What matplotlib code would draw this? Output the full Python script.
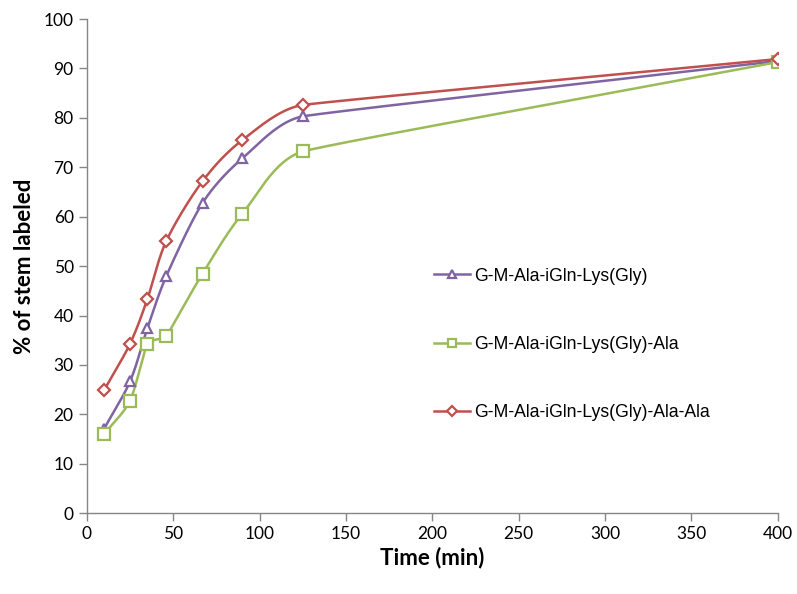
import numpy as np
import matplotlib
matplotlib.use("Agg")
import matplotlib.pyplot as plt

time_min = [10, 25, 35, 46, 67, 90, 125, 400]
gly = [17.1, 26.7, 37.4, 48.0, 62.8, 71.8, 80.3, 91.5]
gly_ala = [16.0, 22.8, 34.3, 35.9, 48.5, 60.6, 73.2, 91.3]
gly_ala_ala = [24.9, 34.3, 43.3, 55.1, 67.2, 75.5, 82.6, 91.9]

labels = ["G-M-Ala-iGln-Lys(Gly)", "G-M-Ala-iGln-Lys(Gly)-Ala", "G-M-Ala-iGln-Lys(Gly)-Ala-Ala"]
colors = ["#8064A2", "#9BBB59", "#C0504D"]
markers = ["^", "s", "D"]
msizes = [7.5, 8.0, 6.0]

x_ticks = [0, 50, 100, 150, 200, 250, 300, 350, 400]
y_ticks = [0, 10, 20, 30, 40, 50, 60, 70, 80, 90, 100]

plt.rcParams['font.family'] = ['Liberation Sans', 'DejaVu Sans']

fig = plt.figure(figsize=(7.97, 5.94), dpi=100)
ax = fig.add_axes([0.109, 0.136, 0.867, 0.832])
ax.set_xlim(0, 400)
ax.set_ylim(0, 100)

# Smoothed line through the points, computed in screen-scaled space
sx, sy = 691 / 400.0, 494 / 100.0

def smooth(xs, ys, n=60):
    P = np.column_stack([np.array(xs) * sx, np.array(ys) * sy])
    out = []
    m = len(P)
    seglen = [np.linalg.norm(P[i + 1] - P[i]) for i in range(m - 1)]
    def tangent(i):
        p0 = P[i - 1] if i > 0 else P[i]
        p2 = P[i + 1] if i + 1 < m else P[i]
        d = p2 - p0
        return d / np.linalg.norm(d)
    for i in range(m - 1):
        p1, p2 = P[i], P[i + 1]
        L = seglen[i]
        Lp = seglen[i - 1] if i > 0 else L
        Ln = seglen[i + 1] if i + 1 < m - 1 else L
        c1 = p1 + tangent(i) * min(L, Lp) / 3.0
        c2 = p2 - tangent(i + 1) * min(L, Ln) / 3.0
        t = np.linspace(0, 1, n)[:, None]
        seg = ((1 - t) ** 3) * p1 + 3 * ((1 - t) ** 2) * t * c1 + 3 * (1 - t) * t ** 2 * c2 + t ** 3 * p2
        out.append(seg if i == 0 else seg[1:])
    Q = np.vstack(out)
    return Q[:, 0] / sx, Q[:, 1] / sy

for ys, lab, c, mk, ms in zip([gly, gly_ala, gly_ala_ala], labels, colors, markers, msizes):
    cx, cy = smooth(time_min, ys)
    ax.plot(cx, cy, color=c, lw=1.8, zorder=2)
    ax.plot(time_min, ys, ls='none', marker=mk, ms=ms, mfc='white', mec=c, mew=1.6, zorder=3)
    ax.plot([], [], color=c, lw=1.8, marker=mk, ms=ms * 0.8, mfc='white', mec=c, mew=1.6, label=lab)

ax.set_xticks(x_ticks)
ax.set_yticks(y_ticks)
ax.tick_params(axis='both', labelsize=12.5, length=6, color='#868686', direction='out', width=1)
for lbl in ax.get_xticklabels() + ax.get_yticklabels():
    lbl.set_family(['Lato', 'DejaVu Sans'])
for s in ['top', 'right']:
    ax.spines[s].set_visible(False)
for s in ['left', 'bottom']:
    ax.spines[s].set_color('#868686')
    ax.spines[s].set_linewidth(1)

ax.set_xlabel("Time (min)", fontsize=16, fontweight='bold', family=['Lato', 'DejaVu Sans'], labelpad=3)
ax.set_ylabel("% of stem labeled", fontsize=16, fontweight='bold', family=['Lato', 'DejaVu Sans'], labelpad=6)

ax.legend(loc='center left', bbox_to_anchor=(0.48, 0.342), frameon=False, fontsize=12.7,
          labelspacing=2.9, handlelength=2.0, handletextpad=0.25)

fig.savefig("out.png", dpi=100)
